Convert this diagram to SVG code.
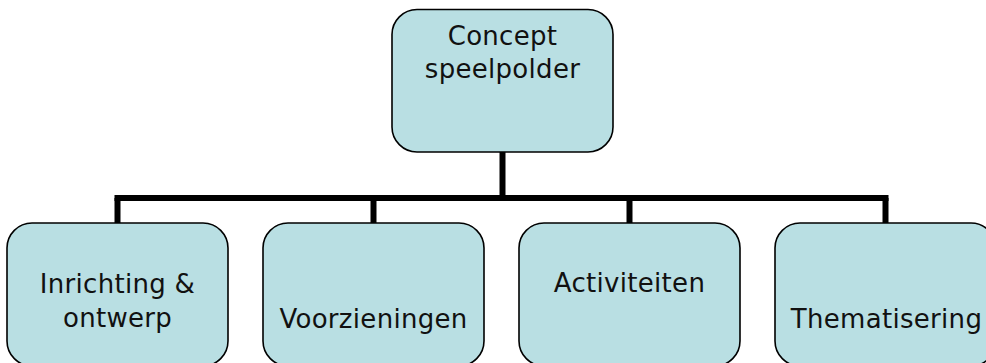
<svg xmlns="http://www.w3.org/2000/svg" width="986" height="363" viewBox="0 0 986 363">
<style>
.box{fill:#b9dfe3;stroke:#000;stroke-width:1.6}
.lbl{font-family:"DejaVu Sans",sans-serif;font-size:26px;fill:#111;text-anchor:middle;letter-spacing:0.3px}
.conn{fill:none;stroke:#000;stroke-width:6}
</style>
<rect width="986" height="363" fill="#fff"/>
<g id="connectors">
<line class="conn" x1="502.5" y1="152" x2="502.5" y2="198"/>
<line class="conn" x1="114.5" y1="198" x2="888.5" y2="198"/>
<line class="conn" x1="117.5" y1="198" x2="117.5" y2="223"/>
<line class="conn" x1="373.5" y1="198" x2="373.5" y2="223"/>
<line class="conn" x1="629.5" y1="198" x2="629.5" y2="223"/>
<line class="conn" x1="885.5" y1="198" x2="885.5" y2="223"/>
</g>
<g id="concept">
<rect class="box" x="392" y="9.5" width="221" height="142.5" rx="25"/>
<text class="lbl" x="502.5" y="45">Concept</text>
<text class="lbl" x="502.5" y="78">speelpolder</text>
</g>
<g id="inrichting">
<rect class="box" x="7" y="223" width="221" height="143" rx="25"/>
<text class="lbl" x="117.5" y="293">Inrichting &amp;</text>
<text class="lbl" x="117.5" y="327">ontwerp</text>
</g>
<g id="voorzieningen">
<rect class="box" x="263" y="223" width="221" height="143" rx="25"/>
<text class="lbl" x="373.5" y="328">Voorzieningen</text>
</g>
<g id="activiteiten">
<rect class="box" x="519" y="223" width="221" height="143" rx="25"/>
<text class="lbl" x="629.5" y="292">Activiteiten</text>
</g>
<g id="thematisering">
<rect class="box" x="775" y="223" width="221" height="143" rx="25"/>
<text class="lbl" x="886.5" y="328">Thematisering</text>
</g>
</svg>
